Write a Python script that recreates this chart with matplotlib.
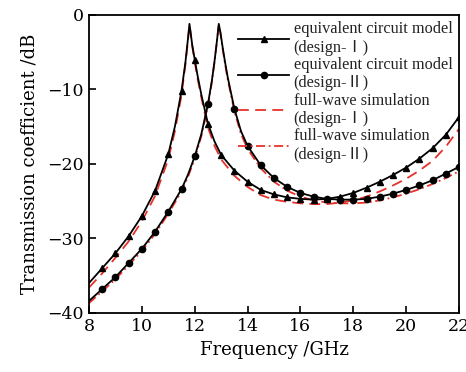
import numpy as np
import matplotlib
matplotlib.use("Agg")
import matplotlib.pyplot as plt

plt.rcParams['font.family'] = ['DejaVu Serif', 'Noto Sans CJK SC']
plt.rcParams['mathtext.fontset'] = 'dejavuserif'

# Design I - equivalent circuit model
f_I = [8, 8.5, 9, 9.5, 10, 10.5, 11, 11.25, 11.5, 11.65, 11.75, 11.8, 11.85, 11.9,
       12, 12.1, 12.25, 12.5, 12.75, 13, 13.5, 14, 14.5, 15, 15.5, 16, 16.5, 17,
       17.5, 18, 18.5, 19, 19.5, 20, 20.5, 21, 21.5, 22]
ecm_I = [-36.0, -34.0, -32.0, -29.7, -27.0, -23.6, -18.7, -15.0, -10.2, -6.3, -3.0, -1.2,
         -2.5, -3.9, -6.0, -8.0, -10.7, -14.6, -17.0, -18.8, -20.9, -22.4, -23.5, -24.1,
         -24.5, -24.7, -24.8, -24.7, -24.4, -23.9, -23.2, -22.4, -21.5, -20.5, -19.3,
         -17.9, -16.1, -13.7]
# Design I - full-wave simulation
fw_I = [-36.6, -34.7, -32.6, -30.4, -27.7, -24.3, -19.4, -15.6, -10.8, -6.6, -3.2, -1.3,
        -2.6, -4.1, -6.3, -8.4, -11.1, -15.1, -17.6, -19.4, -21.6, -23.1, -24.2, -24.8,
        -25.1, -25.3, -25.4, -25.4, -25.2, -24.9, -24.4, -23.7, -22.9, -22.0, -20.9,
        -19.6, -17.7, -15.3]

# Design II - equivalent circuit model
f_II = [8, 8.5, 9, 9.5, 10, 10.5, 11, 11.5, 11.75, 12, 12.25, 12.5, 12.65, 12.75, 12.85,
        12.91, 12.97, 13.05, 13.15, 13.25, 13.5, 13.75, 14, 14.5, 15, 15.5, 16, 16.5,
        17, 17.5, 18, 18.5, 19, 19.5, 20, 20.5, 21, 21.5, 22]
ecm_II = [-38.4, -36.8, -35.2, -33.3, -31.4, -29.1, -26.4, -23.4, -21.4, -19.0, -16.0,
          -12.0, -8.8, -6.2, -3.2, -1.2, -2.3, -4.2, -6.4, -8.4, -12.6, -15.6, -17.6,
          -20.2, -21.9, -23.1, -23.9, -24.4, -24.7, -24.8, -24.8, -24.7, -24.4, -24.0,
          -23.5, -22.9, -22.2, -21.3, -20.4]
# Design II - full-wave simulation
fw_II = [-38.7, -37.1, -35.5, -33.6, -31.7, -29.4, -26.7, -23.7, -21.7, -19.3, -16.3,
         -12.2, -9.0, -6.3, -3.3, -1.2, -2.4, -4.4, -6.6, -8.7, -12.9, -16.0, -18.0,
         -20.6, -22.4, -23.6, -24.4, -24.9, -25.2, -25.3, -25.3, -25.2, -24.9, -24.5,
         -24.0, -23.4, -22.7, -21.9, -21.0]

x_ticks = [8, 10, 12, 14, 16, 18, 20, 22]
y_ticks = [0, -10, -20, -30, -40]

labels = ["equivalent circuit model\n(design-Ⅰ)",
          "equivalent circuit model\n(design-Ⅱ)",
          "full-wave simulation\n(design-Ⅰ)",
          "full-wave simulation\n(design-Ⅱ)"]

fig = plt.figure(figsize=(4.66, 3.72), dpi=100)
ax = fig.add_axes([0.191, 0.159, 0.794, 0.801])

def mark_idx(f):
    return [i for i, v in enumerate(f) if abs(v * 2 - round(v * 2)) < 1e-9 and v > 8]

red = '#e8302a'
ax.plot(f_I, ecm_I, color='black', lw=1.3, marker='^', ms=5,
        markevery=mark_idx(f_I), label=labels[0], zorder=3)
ax.plot(f_II, ecm_II, color='black', lw=1.3, marker='o', ms=4.5,
        markevery=mark_idx(f_II), label=labels[1], zorder=3)
ax.plot(f_I, fw_I, color=red, lw=1.3, ls=(0, (6, 3.5)), label=labels[2], zorder=2)
ax.plot(f_II, fw_II, color=red, lw=1.3, ls=(0, (5, 2, 1, 2)), label=labels[3], zorder=2)

ax.set_xlim(8, 22)
ax.set_ylim(-40, 0)
ax.set_xticks(x_ticks)
ax.set_yticks(y_ticks)
ax.set_yticklabels(['0' if v == 0 else '\u2212%d' % abs(v) for v in y_ticks])
ax.tick_params(direction='in', length=5, width=1.2, labelsize=12.5, pad=4,
               top=False, right=False)
for s in ax.spines.values():
    s.set_linewidth(1.3)

ax.set_xlabel('Frequency /GHz', fontsize=13, labelpad=4)
ax.set_ylabel('Transmission coefficient /dB', fontsize=13, labelpad=6)

leg = ax.legend(loc='upper right', bbox_to_anchor=(1.0, 1.0), frameon=False,
                prop={'family': ['Liberation Serif', 'Noto Sans CJK SC'], 'size': 11.7},
                handlelength=3.1, handletextpad=0.3,
                labelspacing=0.08, borderaxespad=0.0, numpoints=1)
for t in leg.get_texts():
    t.set_color('#222222')

fig.savefig('out.png', dpi=100)
